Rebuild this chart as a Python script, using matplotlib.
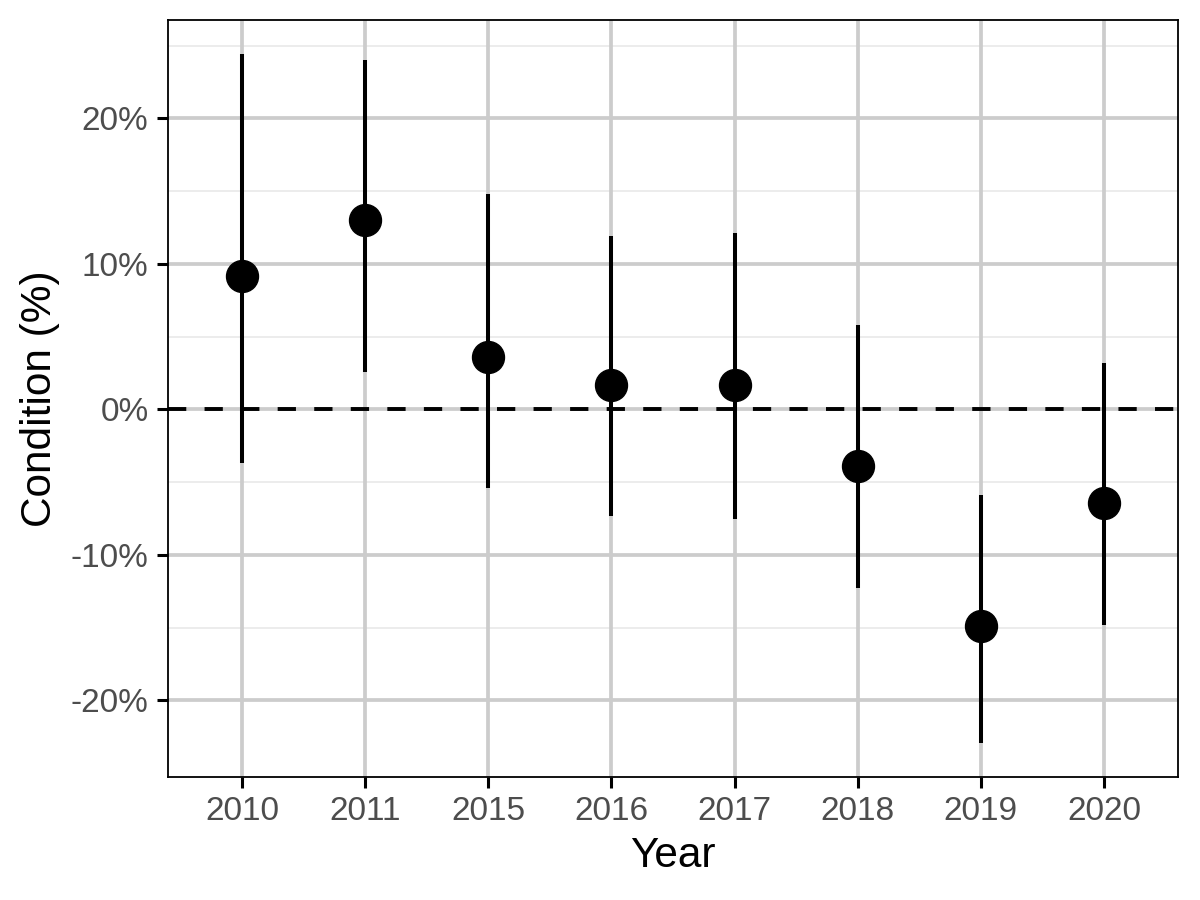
import matplotlib.pyplot as plt
import numpy as np

years = ["2010", "2011", "2015", "2016", "2017", "2018", "2019", "2020"]
condition = [9.2, 13.0, 3.6, 1.7, 1.7, -3.9, -14.9, -6.4]
lower = [-3.7, 2.6, -5.4, -7.3, -7.5, -12.3, -22.9, -14.8]
upper = [24.4, 24.0, 14.8, 11.9, 12.1, 5.8, -5.9, 3.2]

y_ticks = [-20, -10, 0, 10, 20]
y_minor = [-15, -5, 5, 15, 25]

plt.rcParams["font.family"] = ["Liberation Sans", "DejaVu Sans"]

fig = plt.figure(figsize=(12, 9), dpi=100)
ax = fig.add_axes([168 / 1200, 1 - 777 / 900, 1010 / 1200, 757 / 900])

x = np.arange(len(years))

# grid
for yv in y_minor:
    ax.axhline(yv, color="#ebebeb", lw=1.3, zorder=0)
for yv in y_ticks:
    ax.axhline(yv, color="#cccccc", lw=2.7, zorder=0.5)
for xv in x:
    ax.axvline(xv, color="#cccccc", lw=2.7, zorder=0.5)

ax.axhline(0, color="black", lw=2.8, dashes=(4.7, 4.7), zorder=1)

ax.vlines(x, lower, upper, color="black", lw=2.9, zorder=2)
ax.plot(x, condition, "o", color="black", markersize=23, zorder=3)

span = max(upper) - min(lower)
ax.set_ylim(min(lower) - 0.05 * span, max(upper) + 0.05 * span)
ax.set_xlim(-0.6, len(years) - 1 + 0.6)

ax.set_xticks(x)
ax.set_xticklabels(years)
ax.set_yticks(y_ticks)
ax.set_yticklabels([f"{v}%" for v in y_ticks])
ax.tick_params(axis="both", length=8, width=2.2, color="black",
               labelsize=24, labelcolor="#4d4d4d", pad=6)

for s in ax.spines.values():
    s.set_color("black")
    s.set_linewidth(1.3)

ax.set_xlabel("Year", fontsize=30.5, labelpad=6)
ax.set_ylabel("Condition (%)", fontsize=30.5, labelpad=8)

fig.savefig("out.png", dpi=100)
